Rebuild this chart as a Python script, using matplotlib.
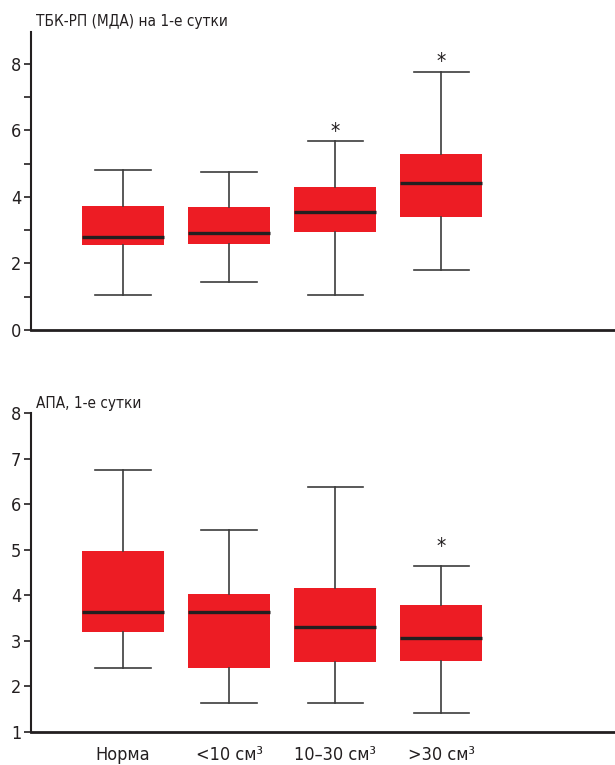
import numpy as np
import matplotlib
matplotlib.use("Agg")
import matplotlib.pyplot as plt
from matplotlib.ticker import MultipleLocator

plt.rcParams['font.family'] = ['DejaVu Sans']
plt.rcParams['font.stretch'] = 'condensed'

groups = ["Норма", "<10 см³", "10–30 см³", ">30 см³"]

# ТБК-РП (МДА): whisker low, Q1, median, Q3, whisker high
tbk_low = [1.04, 1.45, 1.04, 1.81]
tbk_q1 = [2.56, 2.59, 2.95, 3.40]
tbk_med = [2.78, 2.92, 3.54, 4.42]
tbk_q3 = [3.72, 3.68, 4.28, 5.30]
tbk_high = [4.81, 4.76, 5.67, 7.75]
tbk_star = [False, False, True, True]

# АПА
apa_low = [2.41, 1.63, 1.63, 1.40]
apa_q1 = [3.20, 2.39, 2.52, 2.56]
apa_med = [3.64, 3.64, 3.29, 3.05]
apa_q3 = [4.97, 4.03, 4.16, 3.79]
apa_high = [6.75, 5.44, 6.37, 4.65]
apa_star = [False, False, False, True]

RED = "#ED1C24"
DARK = "#231F20"
WHISK = "#3C3C3C"


def draw_panel(ax, low, q1, med, q3, high, stars, title, title_y, star_off):
    stats = []
    for i in range(len(low)):
        stats.append(dict(whislo=low[i], q1=q1[i], med=med[i], q3=q3[i],
                          whishi=high[i], fliers=[]))
    pos = np.arange(1, len(stats) + 1)
    ax.bxp(stats, positions=pos, widths=0.77, capwidths=0.52,
           showfliers=False, patch_artist=True,
           boxprops=dict(facecolor=RED, edgecolor=RED, linewidth=0),
           medianprops=dict(color=DARK, linewidth=2.4, solid_capstyle='butt'),
           whiskerprops=dict(color=WHISK, linewidth=1.2),
           capprops=dict(color=WHISK, linewidth=1.2))
    # significance marks above the upper whisker
    for p, h, s in zip(pos, high, stars):
        if s:
            ax.annotate("*", (p, h), xytext=(0, star_off), textcoords="offset points",
                        ha="center", va="baseline", fontsize=15, color=DARK)
    ax.set_xlim(0.132, 5.64)
    for side in ("top", "right"):
        ax.spines[side].set_visible(False)
    ax.spines["left"].set_linewidth(1.5)
    ax.spines["bottom"].set_linewidth(2.0)
    ax.spines["left"].set_color(DARK)
    ax.spines["bottom"].set_color(DARK)
    ax.tick_params(axis="y", direction="out", length=5, width=1.2,
                   labelsize=13, pad=2, colors=DARK, which="both")
    ax.tick_params(axis="x", length=0)
    ax.text(0.008, title_y, title, transform=ax.transAxes, fontsize=11,
            color=DARK, va="bottom", ha="left")


fig = plt.figure(figsize=(6.15, 7.65), dpi=100)

ax1 = fig.add_axes([31 / 615, 1 - 330 / 765, 1 - 31 / 615, 298 / 765])
draw_panel(ax1, tbk_low, tbk_q1, tbk_med, tbk_q3, tbk_high, tbk_star,
           "ТБК-РП (МДА) на 1-е сутки", 1.01, 2.5)
ax1.set_ylim(0, 8.95)
ax1.yaxis.set_major_locator(MultipleLocator(2))
ax1.yaxis.set_minor_locator(MultipleLocator(1))
ax1.set_xticks([])

ax2 = fig.add_axes([31 / 615, 1 - 731.7 / 765, 1 - 31 / 615, 318.7 / 765])
draw_panel(ax2, apa_low, apa_q1, apa_med, apa_q3, apa_high, apa_star,
           "АПА, 1-е сутки", 1.005, 9)
ax2.set_ylim(1, 8)
ax2.yaxis.set_major_locator(MultipleLocator(1))
ax2.set_xticks(np.arange(1, len(groups) + 1))
ax2.set_xticklabels(groups, fontsize=13, color=DARK)
ax2.tick_params(axis="x", pad=10)

fig.savefig("out.png", dpi=100)
